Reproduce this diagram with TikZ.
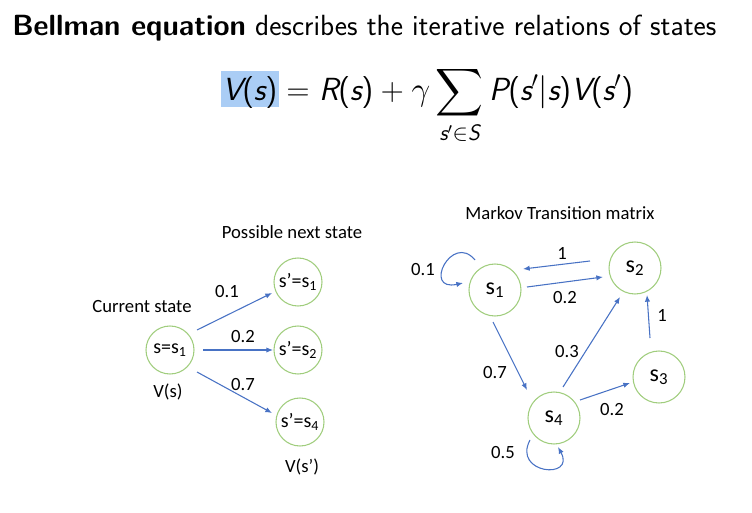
\documentclass[tikz,border=0pt]{standalone}
\usepackage[no-math]{fontspec}
\usepackage{amsmath}
\usepackage{tikz}
\usetikzlibrary{arrows.meta}
\newfontfamily\calib{Carlito}
% sans math letters as on a slide
\DeclareSymbolFont{operators}{TU}{lmss}{m}{n}
\DeclareMathAlphabet{\mathsfit}{TU}{lmss}{m}{sl}
\newcommand{\sv}[1]{\mathsfit{#1}}
\definecolor{stategreen}{RGB}{160,205,125}
\definecolor{arrowblue}{RGB}{72,114,196}
\definecolor{hlblue}{RGB}{170,205,245}

\begin{document}
\begin{tikzpicture}[x=0.75pt,y=-0.75pt,
    state/.style={circle,draw=stategreen,line width=0.8pt,minimum size=36pt,inner sep=0pt,
      font=\calib\fontsize{15}{17}\selectfont},
    bigstate/.style={state,minimum size=39pt,font=\calib\fontsize{18}{20}\selectfont},
    lbl/.style={font=\calib\fontsize{14}{16}\selectfont,inner sep=0pt},
    arr/.style={draw=arrowblue,line width=0.8pt,-{Latex[length=5pt,width=4pt]}}]
  \useasboundingbox (0,0) rectangle (752,513);
  % heading and equation
  \node[anchor=base west,inner sep=0pt,font=\sffamily\fontsize{21.9}{26}\selectfont] (title) at (12,36)
    {\textbf{Bellman equation} describes the iterative relations of states};
  \fill[hlblue] (221,71) rectangle (279,107);
  \node[anchor=base west,inner sep=0pt,font=\fontsize{24}{28}\selectfont] (eq) at (222,101)
    {$\displaystyle \sv{V}(\sv{s}) = \sv{R}(\sv{s}) + \gamma \sum_{\sv{s}'\in \sv{S}} \sv{P}(\sv{s}'|\sv{s})\sv{V}(\sv{s}')$};

  % one step look-ahead
  \node[state] (cur) at (170,350) {s=s\textsubscript{1}};
  \node[state] (nxa) at (298,282) {s’=s\textsubscript{1}};
  \node[state] (nxb) at (298,350) {s’=s\textsubscript{2}};
  \node[state] (nxd) at (300,422) {s’=s\textsubscript{4}};
  \node[lbl] (curlbl) at (142,307) {Current state};
  \node[lbl] (nxlbl) at (292,232) {Possible next state};
  \node[lbl] (vs) at (168,392) {V(s)};
  \node[lbl] (vsn) at (302,467) {V(s’)};
  \draw[arr] ([shift={(27,-20)}]cur.center) -- ([shift={(-26,11)}]nxa.center);
  \draw[arr] ([shift={(33,0)}]cur.center) -- ([shift={(-25,0)}]nxb.center);
  \draw[arr] ([shift={(27,22)}]cur.center) -- ([shift={(-28,-9)}]nxd.center);
  \node[lbl] at (227,292) {0.1};
  \node[lbl] at (243,337) {0.2};
  \node[lbl] at (243,385) {0.7};

  % Markov chain
  \node[lbl] (mlbl) at (560,213) {Markov Transition matrix};
  \node[bigstate] (s1) at (495,290) {s\textsubscript{1}};
  \node[bigstate] (s2) at (635,268) {s\textsubscript{2}};
  \node[bigstate] (s3) at (659,377) {s\textsubscript{3}};
  \node[bigstate] (s4) at (554,418) {s\textsubscript{4}};
  \draw[arr] ([shift={(-45,-7)}]s2.center) -- ([shift={(28,-21)}]s1.center);
  \draw[arr] ([shift={(32,-3)}]s1.center) -- ([shift={(-32,9)}]s2.center);
  \draw[arr] ([shift={(-2,32)}]s1.center) -- ([shift={(-27,-28)}]s4.center);
  \draw[arr] ([shift={(9,-31)}]s4.center) -- ([shift={(-15,29)}]s2.center);
  \draw[arr] ([shift={(-9,-39)}]s3.center) -- ([shift={(12,27)}]s2.center);
  \draw[arr] ([shift={(26,-18)}]s4.center) -- ([shift={(-29,6)}]s3.center);
  \draw[arr] ([shift={(-20,-30)}]s1.center) .. controls (452,232) and (422,292) .. ([shift={(-32,-7)}]s1.center);
  \draw[arr] ([shift={(-24,22)}]s4.center) .. controls (512,474) and (576,480) .. ([shift={(4,29)}]s4.center);
  \node[lbl] at (562,253) {1};
  \node[lbl] at (565,298) {0.2};
  \node[lbl] at (423,270) {0.1};
  \node[lbl] at (495,373) {0.7};
  \node[lbl] at (567,352) {0.3};
  \node[lbl] at (662,315) {1};
  \node[lbl] at (612,410) {0.2};
  \node[lbl] at (503,453) {0.5};
\end{tikzpicture}
\end{document}
